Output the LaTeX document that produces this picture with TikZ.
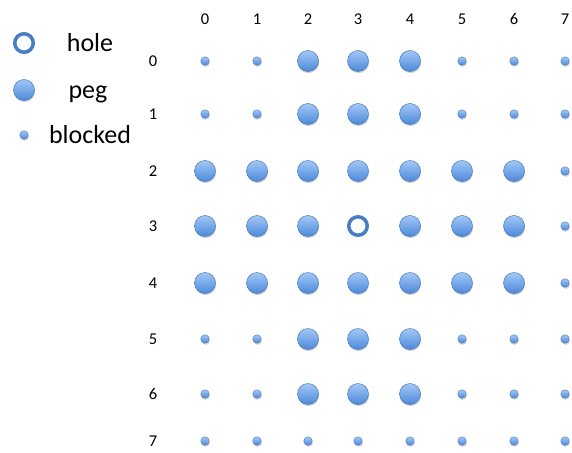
\documentclass[tikz,border=0pt]{standalone}
\usepackage{fontspec}
\setmainfont{Carlito}
\usetikzlibrary{shadows}
\definecolor{pegtop}{HTML}{A3C8F7}
\definecolor{pegbot}{HTML}{4C88D8}
\definecolor{pegedge}{HTML}{4279C2}
\definecolor{ringc}{HTML}{4A7EC4}
\tikzset{
  x=1pt, y=-1pt,
  shade/.style={drop shadow={opacity=0.35, shadow xshift=0.6pt, shadow yshift=-1.6pt}},
  peg/.style={circle, inner sep=0pt, minimum size=21pt, top color=pegtop, bottom color=pegbot, draw=pegedge, line width=0.5pt, shade},
  blocked/.style={circle, inner sep=0pt, minimum size=8.5pt, top color=pegtop, bottom color=pegbot, draw=pegedge, line width=0.4pt, shade},
  hole/.style={circle, inner sep=0pt, minimum size=18.5pt, fill=white, draw=ringc, line width=3.5pt, shade},
  digit/.style={font=\fontsize{16.5}{18}\selectfont, inner sep=0pt},
  legendtext/.style={font=\fontsize{26}{29}\selectfont, inner sep=0pt, anchor=base}
}
\begin{document}
\begin{tikzpicture}
\useasboundingbox (0,0) rectangle (572,452);
% legend
\node[hole] (lhole) at (24,43) {};
\node[peg] (lpeg) at (24,90) {};
\node[blocked] (lblk) at (24,135) {};
\node[legendtext] (thole) at (90,52) {hole};
\node[legendtext] (tpeg) at (88,98) {peg};
\node[legendtext] (tblk) at (90,143) {blocked};
% headers
\foreach \c/\x in {0/205,1/257,2/308,3/358,4/410,5/462,6/514,7/565}
  \node[digit] (col\c) at (\x,19) {\c};
\foreach \r/\y in {0/61,1/114,2/171,3/226,4/283,5/339,6/394,7/441}
  \node[digit] (row\r) at (153,\y) {\r};
% board
\foreach \r/\y in {0/61,1/114,2/171,3/226,4/283,5/339,6/394,7/441}{
  \foreach \c/\x in {0/205,1/257,2/308,3/358,4/410,5/462,6/514,7/565}{
    \pgfmathtruncatemacro{\ispeg}{ (\c>=2 && \c<=4 && \r<=6) || (\r>=2 && \r<=4 && \c<=6) ? 1 : 0 }
    \pgfmathtruncatemacro{\ishole}{ (\r==3 && \c==3) ? 1 : 0 }
    \ifnum\ishole=1
      \node[hole] (g\r\c) at (\x,\y) {};
    \else\ifnum\ispeg=1
      \node[peg] (g\r\c) at (\x,\y) {};
    \else
      \node[blocked] (g\r\c) at (\x,\y) {};
    \fi\fi
  }
}
\end{tikzpicture}
\end{document}
